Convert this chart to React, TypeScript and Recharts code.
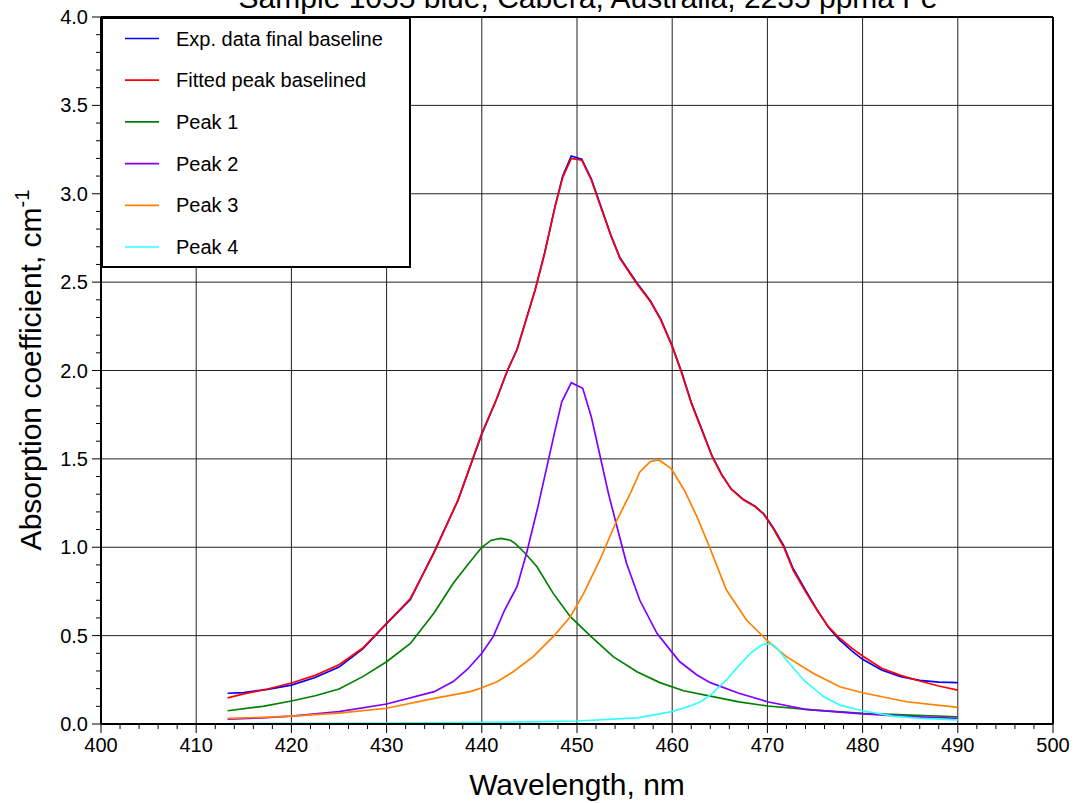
import { LineChart, Line, XAxis, YAxis, ReferenceLine } from "recharts";

const FONT = '"Liberation Sans", Arial, Helvetica, sans-serif';

const TITLE = "Sample 1055 blue, Cabera, Australia, 2235 ppma Fe";
const X_LABEL = "Wavelength, nm";
const Y_LABEL = "Absorption coefficient, cm";

const X_MAJOR = [400, 410, 420, 430, 440, 450, 460, 470, 480, 490, 500];
const Y_MAJOR = [0, 0.5, 1, 1.5, 2, 2.5, 3, 3.5, 4];
// minor ticks every 2 nm / 0.1
const X_TICKS = Array.from({ length: 51 }, (_, i) => 400 + i * 2);
const Y_TICKS = Array.from({ length: 41 }, (_, i) => +(i * 0.1).toFixed(1));

// [wavelength nm, absorption coefficient]
const EXP_DATA = [
  [413.3, 0.174], [415, 0.178], [417.5, 0.196], [420, 0.22], [422.5, 0.263], [425, 0.322],
  [427.5, 0.425], [430, 0.568], [432.5, 0.705], [435, 0.975], [437.5, 1.265], [440, 1.64],
  [441.5, 1.83], [442.7, 2.0], [443.7, 2.12], [445.6, 2.455], [446.6, 2.665], [447.7, 2.93],
  [448.5, 3.1], [449.4, 3.214], [450.5, 3.195], [451.5, 3.085], [452.6, 2.915], [453.6, 2.76],
  [454.5, 2.64], [456.3, 2.495], [457.7, 2.395], [458.8, 2.29], [460, 2.14], [461, 1.99],
  [462, 1.82], [463.1, 1.668], [464.2, 1.515], [465.2, 1.412], [466.2, 1.33], [467.5, 1.27],
  [468.7, 1.232], [469.6, 1.19], [470.6, 1.112], [471.7, 1.01], [472.7, 0.88], [474, 0.757],
  [475.2, 0.648], [476.4, 0.548], [477.6, 0.475], [478.9, 0.412], [480, 0.366], [482, 0.305],
  [484, 0.268], [486, 0.247], [488, 0.237], [490, 0.234],
];

const FIT_DATA = [
  [413.3, 0.148], [415, 0.17], [417.5, 0.198], [420, 0.232], [422.5, 0.275], [425, 0.335],
  [427.5, 0.43], [430, 0.57], [432.5, 0.71], [435, 0.97], [437.5, 1.267], [440, 1.645],
  [441.5, 1.833], [442.7, 2.003], [443.7, 2.116], [445.6, 2.455], [446.6, 2.663], [447.7, 2.927],
  [448.5, 3.093], [449.4, 3.2], [450.5, 3.19], [451.5, 3.078], [452.6, 2.908], [453.6, 2.757],
  [454.5, 2.635], [456.3, 2.49], [457.7, 2.39], [458.8, 2.286], [460, 2.135], [461, 1.984],
  [462, 1.815], [463.1, 1.663], [464.2, 1.512], [465.2, 1.409], [466.2, 1.328], [467.5, 1.267],
  [468.7, 1.23], [469.6, 1.188], [470.6, 1.107], [471.7, 1.003], [472.7, 0.871], [474, 0.749],
  [475.2, 0.645], [476.4, 0.551], [477.6, 0.485], [478.9, 0.428], [480, 0.385], [482, 0.315],
  [484, 0.275], [486, 0.243], [488, 0.215], [490, 0.192],
];

const PEAK1 = [
  [413.3, 0.075], [417, 0.1], [420, 0.13], [422.5, 0.16], [425, 0.198], [427.5, 0.268],
  [430, 0.352], [432.5, 0.456], [435, 0.63], [437, 0.796], [438.5, 0.9], [440, 1.0],
  [441, 1.04], [442, 1.05], [443, 1.04], [443.5, 1.022], [444.5, 0.969], [445.8, 0.89],
  [447.5, 0.739], [449.3, 0.607], [451.4, 0.498], [453.8, 0.381], [456.3, 0.296], [458.7, 0.234],
  [461.2, 0.188], [464, 0.158], [467, 0.125], [470, 0.102], [475, 0.078], [480, 0.06],
  [485, 0.05], [490, 0.041],
];

const PEAK2 = [
  [413.3, 0.027], [417, 0.035], [420, 0.045], [425, 0.07], [430, 0.113], [435, 0.183],
  [437, 0.24], [438.5, 0.31], [440, 0.4], [441.2, 0.494], [442.4, 0.645], [443.7, 0.777],
  [444.7, 0.966], [445.9, 1.23], [447, 1.494], [447.7, 1.663], [448.4, 1.823], [449.4, 1.931],
  [450.6, 1.899], [451.5, 1.739], [452.4, 1.522], [453.3, 1.305], [454.2, 1.116], [455.2, 0.909],
  [456.6, 0.7], [458.4, 0.513], [459.8, 0.418], [460.8, 0.352], [462.6, 0.277], [464, 0.234],
  [467, 0.174], [470, 0.126], [474, 0.083], [480, 0.057], [485, 0.042], [490, 0.032],
];

const PEAK3 = [
  [413.3, 0.032], [417, 0.038], [420, 0.045], [425, 0.062], [430, 0.089], [435, 0.145],
  [438.8, 0.183], [440, 0.205], [441.6, 0.239], [443.3, 0.296], [445.4, 0.381], [447.5, 0.494],
  [449.3, 0.607], [450.7, 0.739], [452.4, 0.928], [454.2, 1.154], [455.6, 1.305], [456.6, 1.426],
  [457.7, 1.485], [458.6, 1.494], [459.9, 1.445], [461.3, 1.32], [462.6, 1.173], [464, 0.99],
  [465.7, 0.758], [467.8, 0.588], [470, 0.471], [472, 0.381], [474.8, 0.287], [477.6, 0.211],
  [480, 0.177], [484.6, 0.126], [490, 0.094],
];

const PEAK4 = [
  [413.3, 0.002], [420, 0.003], [430, 0.005], [440, 0.009], [445, 0.012], [450, 0.017],
  [456.3, 0.035], [460, 0.07], [462, 0.105], [463, 0.126], [464, 0.164], [465.7, 0.249],
  [467, 0.33], [468.2, 0.4], [469.2, 0.44], [469.6, 0.452], [470.5, 0.452], [471, 0.43],
  [472, 0.362], [473.8, 0.249], [475.9, 0.155], [477.6, 0.107], [480, 0.075], [483.2, 0.045],
  [486, 0.032], [490, 0.023],
];

const SERIES = [
  { name: "Exp. data final baseline", color: "#0000ff", points: EXP_DATA },
  { name: "Fitted peak baselined", color: "#ff0000", points: FIT_DATA },
  { name: "Peak 1", color: "#008000", points: PEAK1 },
  { name: "Peak 2", color: "#8000ff", points: PEAK2 },
  { name: "Peak 3", color: "#ff8000", points: PEAK3 },
  { name: "Peak 4", color: "#33ffff", points: PEAK4 },
];

const toRows = (pts: number[][]) => pts.map(([x, y]) => ({ x, y }));

function XTick(props: any) {
  const { x, y, payload } = props;
  const v = payload.value;
  const major = Math.round(v) % 10 === 0;
  return (
    <g>
      <line x1={x} x2={x} y1={y} y2={y + (major ? 9 : 5)} stroke="#000" strokeWidth={1} />
      {major && (
        <text x={x} y={y + 28} textAnchor="middle" fontSize={20} fontFamily={FONT} fill="#000">
          {v}
        </text>
      )}
    </g>
  );
}

function YTick(props: any) {
  const { x, y, payload } = props;
  const v = payload.value;
  const major = Math.round(v * 10) % 5 === 0;
  return (
    <g>
      <line x1={x - (major ? 9 : 5)} x2={x} y1={y} y2={y} stroke="#000" strokeWidth={1} />
      {major && (
        <text x={x - 13} y={y} dy="0.35em" textAnchor="end" fontSize={20} fontFamily={FONT} fill="#000">
          {v.toFixed(1)}
        </text>
      )}
    </g>
  );
}

export default function App() {
  return (
    <div style={{ position: "absolute", left: 0, top: 0, width: 1077, height: 803, background: "#fff" }}>
      <LineChart width={1077} height={803} margin={{ top: 17, right: 24, bottom: 39, left: 41 }}>
        <XAxis
          dataKey="x"
          type="number"
          domain={[400, 500]}
          ticks={X_TICKS}
          interval={0}
          tick={<XTick />}
          tickLine={false}
          tickSize={0}
          tickMargin={0}
          height={40}
          allowDataOverflow
          axisLine={{ stroke: "#000", strokeWidth: 2 }}
        />
        <YAxis
          type="number"
          domain={[0, 4]}
          ticks={Y_TICKS}
          interval={0}
          tick={<YTick />}
          tickLine={false}
          tickSize={0}
          tickMargin={0}
          width={60}
          allowDataOverflow
          axisLine={{ stroke: "#000", strokeWidth: 2 }}
        />
        {X_MAJOR.slice(1, -1).map((v) => (
          <ReferenceLine key={"gx" + v} x={v} stroke="#222" strokeWidth={1} />
        ))}
        {Y_MAJOR.slice(1, -1).map((v) => (
          <ReferenceLine key={"gy" + v} y={v} stroke="#222" strokeWidth={1} />
        ))}
        <ReferenceLine x={500} stroke="#000" strokeWidth={2} />
        <ReferenceLine y={4} stroke="#000" strokeWidth={2} />
        {SERIES.map((s) => (
          <Line
            key={s.name}
            data={toRows(s.points)}
            dataKey="y"
            type="linear"
            stroke={s.color}
            strokeWidth={1.7}
            dot={false}
            isAnimationActive={false}
          />
        ))}
      </LineChart>
      <svg
        width={1077}
        height={803}
        style={{ position: "absolute", left: 0, top: 0, pointerEvents: "none" }}
        fontFamily={FONT}
      >
        <text x={588} y={8} textAnchor="middle" fontSize={30} fill="#000">
          {TITLE}
        </text>
        <text x={577} y={795} textAnchor="middle" fontSize={30} fill="#000">
          {X_LABEL}
        </text>
        <text transform="translate(41,370) rotate(-90)" textAnchor="middle" fontSize={30} fill="#000">
          {Y_LABEL}
          <tspan dy={-12} fontSize={20}>-1</tspan>
        </text>
        <rect x={102} y={18} width={308} height={249} fill="#fff" stroke="#000" strokeWidth={2} />
        {SERIES.map((s, i) => {
          const cy = 38.5 + i * 41.7;
          return (
            <g key={s.name}>
              <line x1={125} x2={159} y1={cy} y2={cy} stroke={s.color} strokeWidth={1.7} />
              <text x={176} y={cy} dy="0.35em" fontSize={20} fill="#000">
                {s.name}
              </text>
            </g>
          );
        })}
      </svg>
    </div>
  );
}
